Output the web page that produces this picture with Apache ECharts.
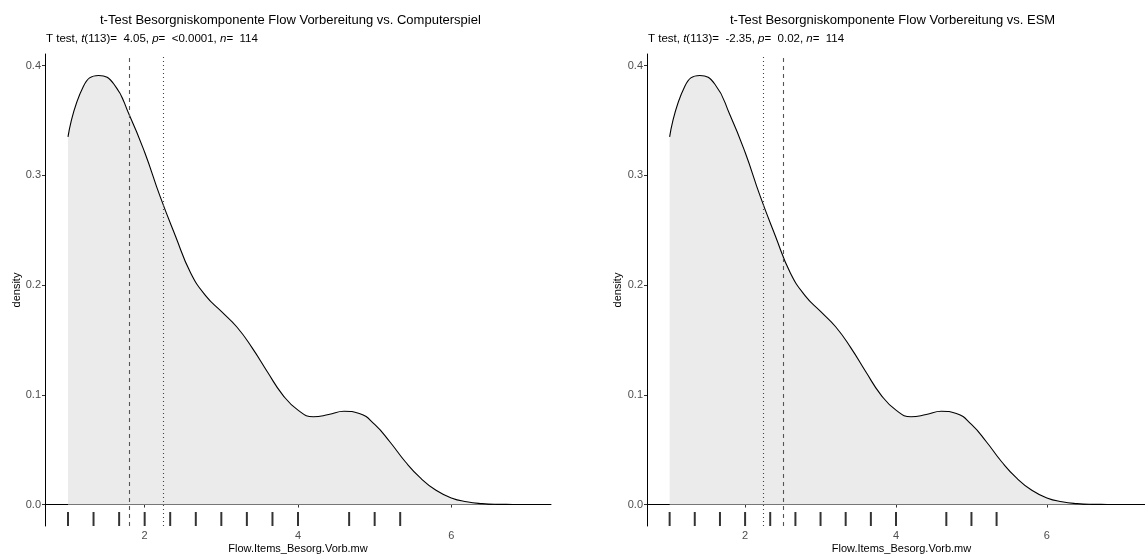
<!DOCTYPE html>
<html>
<head>
<meta charset="utf-8">
<script src="https://cdn.jsdelivr.net/npm/echarts@6/dist/echarts.min.js"></script>
<style>
  html, body { margin: 0; padding: 0; background: #fff; }
  #chart { width: 1145px; height: 557px; }
</style>
</head>
<body>
<div id="chart"></div>
<script>
// Kernel density estimate of the anxiety component (shared by both panels)
const densX = [1.0, 1.2, 1.4, 1.6, 1.8, 2.0, 2.2, 2.4, 2.6, 2.8, 3.0, 3.2, 3.4, 3.6, 3.8, 4.0,
               4.2, 4.4, 4.6, 4.8, 5.0, 5.2, 5.4, 5.6, 5.8, 6.0, 6.2, 6.4, 6.6, 6.8, 7.0];
const densY = [0.335, 0.381, 0.391, 0.383, 0.355, 0.321, 0.281, 0.245, 0.211, 0.190, 0.176, 0.162,
               0.143, 0.121, 0.100, 0.086, 0.080, 0.082, 0.085, 0.083, 0.073, 0.057, 0.039, 0.024,
               0.013, 0.006, 0.0025, 0.0008, 0.0002, 0.0001, 0.0];

// Observed item means (rug)
const rugX = [1, 1.333, 1.667, 2, 2.333, 2.667, 3, 3.333, 3.667, 4, 4.667, 5, 5.333];

// Sample mean (dotted) and test values mu (dashed), one per panel
const sampleMean = 2.24;
const testMu = [1.8, 2.5];

const panelTitles = [
  't-Test Besorgniskomponente Flow Vorbereitung vs. Computerspiel',
  't-Test Besorgniskomponente Flow Vorbereitung vs. ESM'
];
const testT = ['4.05', '-2.35'];
const testP = ['<0.0001', '0.02'];
const testDf = '113';
const testN = '114';

const xTicks = [2, 4, 6];
const yTicks = [0, 0.1, 0.2, 0.3, 0.4];
const xName = 'Flow.Items_Besorg.Vorb.mw';
const yName = 'density';

const FONT = 'Liberation Sans, Arial, sans-serif';
const panels = [
  { left: 45, width: 506, titleX: 100, subX: 46, yNameX: 17 },
  { left: 647, width: 509, titleX: 730, subX: 648, yNameX: 618 }
];
const gridTop = 54, gridHeight = 472;
const xMin = 0.7, xMax = 7.3;
const yMax = Math.max(...densY) * 1.05;
const yMin = -Math.max(...densY) * 0.05;

const chart = echarts.init(document.getElementById('chart'), null, { renderer: 'canvas' });

const grids = [], xAxes = [], yAxes = [], series = [], graphics = [];

panels.forEach((p, i) => {
  grids.push({ left: p.left, top: gridTop, width: p.width, height: gridHeight, containLabel: false });

  xAxes.push({
    type: 'value', gridIndex: i, min: xMin, max: xMax,
    axisLine: { lineStyle: { color: '#000', width: 1 } },
    axisTick: { customValues: xTicks, length: 3, lineStyle: { color: '#333', width: 1 } },
    axisLabel: { customValues: xTicks, color: '#4D4D4D', fontSize: 11, fontFamily: FONT, margin: 4 },
    splitLine: { show: false }
  });

  yAxes.push({
    type: 'value', gridIndex: i, min: yMin, max: yMax,
    axisLine: { show: true, lineStyle: { color: '#000', width: 1 } },
    axisTick: { show: true, customValues: yTicks, length: 3, lineStyle: { color: '#333', width: 1 } },
    axisLabel: { customValues: yTicks, color: '#4D4D4D', fontSize: 11, fontFamily: FONT, margin: 4,
                 formatter: v => v.toFixed(1) },
    splitLine: { show: false }
  });

  series.push({
    type: 'line', xAxisIndex: i, yAxisIndex: i,
    data: densX.map((x, k) => [x, densY[k]]),
    smooth: 0.5, showSymbol: false, symbol: 'none',
    lineStyle: { color: '#000', width: 1.1 },
    areaStyle: { color: '#EBEBEB', opacity: 1 },
    silent: true,
    markLine: {
      symbol: 'none', silent: true, label: { show: false },
      data: [
        { xAxis: testMu[i], lineStyle: { type: [4, 4], color: '#555', width: 1.1 } },
        { xAxis: sampleMean, lineStyle: { type: [1, 3], color: '#444', width: 1.1 } }
      ]
    },
    z: 2
  });

  series.push({
    type: 'scatter', xAxisIndex: i, yAxisIndex: i,
    data: rugX.map(x => [x, yMin]),
    symbol: 'rect', symbolSize: [2, 14], symbolOffset: [0, '-50%'],
    itemStyle: { color: '#000' }, clip: false, silent: true, z: 3
  });

  graphics.push({
    type: 'text', left: p.titleX, top: 14,
    style: { text: panelTitles[i], font: `13px ${FONT}`, fill: '#000' }
  });
  graphics.push({
    type: 'text', left: p.subX, top: 33,
    style: {
      text: `{n|T test, }{i|t}{n|(${testDf})=  ${testT[i]}, }{i|p}{n|=  ${testP[i]}, }{i|n}{n|=  ${testN}}`,
      rich: {
        n: { font: `11.5px ${FONT}`, fill: '#000' },
        i: { font: `italic 11.5px ${FONT}`, fill: '#000' }
      }
    }
  });
  graphics.push({
    type: 'text', x: p.yNameX, y: gridTop + gridHeight / 2, rotation: Math.PI / 2,
    style: { text: yName, font: `11px ${FONT}`, fill: '#000', align: 'center', verticalAlign: 'middle' }
  });
  graphics.push({
    type: 'text', x: p.left + p.width / 2, y: 549,
    style: { text: xName, font: `11px ${FONT}`, fill: '#000', align: 'center', verticalAlign: 'middle' }
  });
});

chart.setOption({
  animation: false,
  backgroundColor: '#fff',
  grid: grids,
  xAxis: xAxes,
  yAxis: yAxes,
  series: series,
  graphic: graphics
});
</script>
</body>
</html>
